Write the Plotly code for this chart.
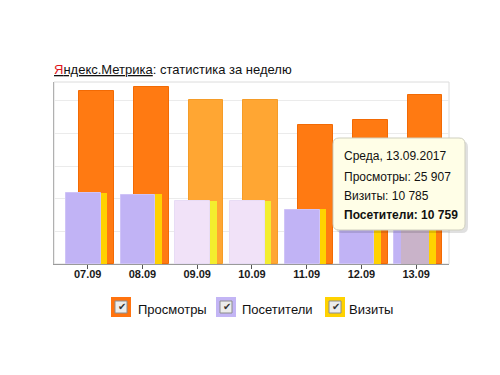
import plotly.graph_objects as go

# ---- data ----
categories = ["07.09", "08.09", "09.09", "10.09", "11.09", "12.09", "13.09"]
views = [26480, 27090, 25100, 25090, 21310, 22120, 25907]      # Просмотры
visits = [10880, 10730, 9680, 9660, 8480, 10180, 10785]        # Визиты
visitors = [10840, 10530, 9660, 9640, 8280, 10100, 10759]      # Посетители
weekend = [False, False, True, True, False, False, False]
series_names = ["Просмотры", "Посетители", "Визиты"]
tooltip_date = "Среда, 13.09.2017"
hover_index = 6

# ---- styling ----
FONT = "Liberation Sans, Arial, sans-serif"
c_views = ["#ffa633" if w else "#ff7a12" for w in weekend]
c_views_line = ["#f59c28" if w else "#f26a04" for w in weekend]
c_visits = ["#f3ee2e" if w else "#ffd200" for w in weekend]
c_visitors = ["#f1e2f8" if w else "#c1b3f5" for w in weekend]
c_visitors_line = ["#e8dcf5" if w else "#cfc3f7" for w in weekend]

BW = 0.635
fig = go.Figure()
fig.add_trace(go.Bar(x=list(range(len(categories))), y=views, width=BW, offset=-0.156,
                     marker=dict(color=c_views, line=dict(color=c_views_line, width=1)),
                     name=series_names[0], showlegend=False))
fig.add_trace(go.Bar(x=list(range(len(categories))), y=visits, width=BW, offset=-0.278,
                     marker=dict(color=c_visits, line=dict(width=0)),
                     name=series_names[2], showlegend=False))
fig.add_trace(go.Bar(x=list(range(len(categories))), y=visitors, width=BW, offset=-0.40,
                     marker=dict(color=c_visitors, line=dict(color=c_visitors_line, width=1)),
                     name=series_names[1], showlegend=False))
# hover highlight of the hovered visitors bar
fig.add_trace(go.Bar(x=[hover_index], y=[visitors[hover_index]], width=0.506, offset=-0.269,
                     marker=dict(color="#c9b3c9", line=dict(width=0)),
                     showlegend=False))

# ---- page pixel -> paper helpers (page has an 8px body margin) ----
OFF = 8
L, R, T, B = 54 - OFF, 449 - OFF, 82 - OFF, 264 - OFF   # plot area in figure pixels
W, H = R - L, B - T
def px(x):
    return (x - OFF - L) / W
def py(y):
    return (B - (y - OFF)) / H

shapes = []
annotations = []

# plot frame (light)
shapes.append(dict(type="rect", xref="paper", yref="paper", x0=0, x1=1, y0=0, y1=1,
                   line=dict(color="#dcdcdc", width=1), layer="below"))

# title
annotations.append(dict(
    xref="paper", yref="paper", x=px(52), y=py(69), xanchor="left", yanchor="middle",
    showarrow=False, font=dict(family=FONT, size=13, color="#111"),
    text='<span style="text-decoration:underline"><span style="color:#e0141c">Я</span>'
         'ндекс.Метрика</span>: статистика за неделю'))

# tooltip box (rounded) with shadow
def rounded(x0, y0, x1, y1, r=5):
    rx, ry = r / W, r / H
    X0, X1 = px(x0), px(x1)
    Y0, Y1 = py(y0), py(y1)  # Y0 top (larger), Y1 bottom
    return (f"M {X0+rx},{Y0} L {X1-rx},{Y0} Q {X1},{Y0} {X1},{Y0-ry} "
            f"L {X1},{Y1+ry} Q {X1},{Y1} {X1-rx},{Y1} "
            f"L {X0+rx},{Y1} Q {X0},{Y1} {X0},{Y1+ry} "
            f"L {X0},{Y0-ry} Q {X0},{Y0} {X0+rx},{Y0} Z")

shapes.append(dict(type="path", xref="paper", yref="paper", path=rounded(336, 141, 468, 233, 6),
                   fillcolor="rgba(0,0,0,0.12)", line=dict(width=0), layer="above"))
shapes.append(dict(type="path", xref="paper", yref="paper", path=rounded(333, 138, 465, 230, 6),
                   fillcolor="#fffee7", line=dict(color="#cfcfbf", width=1), layer="above"))

def fmt(v):
    return f"{v:,}".replace(",", " ")

tip_lines = [
    (tooltip_date, 155.5, False),
    (f"{series_names[0]}: {fmt(views[hover_index])}", 177, False),
    (f"{series_names[2]}: {fmt(visits[hover_index])}", 195.5, False),
    (f"{series_names[1]}: {fmt(visitors[hover_index])}", 214.5, True),
]
for txt, yy, bold in tip_lines:
    annotations.append(dict(xref="paper", yref="paper", x=px(342), y=py(yy),
                            xanchor="left", yanchor="middle", showarrow=False,
                            text=f"<b>{txt}</b>" if bold else txt,
                            font=dict(family=FONT, size=12, color="#111")))

# custom legend (checkbox style)
legend_items = [
    (series_names[0], "#ff730f", 111, 136),
    (series_names[1], "#c3b5f5", 216, 240),
    (series_names[2], "#ffd200", 325, 347),
]
for name, col, bx, tx in legend_items:
    shapes.append(dict(type="rect", xref="paper", yref="paper",
                       x0=px(bx), x1=px(bx + 20), y0=py(317), y1=py(297),
                       fillcolor=col, line=dict(width=0), layer="above"))
    shapes.append(dict(type="rect", xref="paper", yref="paper",
                       x0=px(bx + 4), x1=px(bx + 16), y0=py(313), y1=py(301),
                       fillcolor="#ececec", line=dict(color="#8c8c8c", width=1), layer="above"))
    annotations.append(dict(xref="paper", yref="paper", x=px(bx + 10.5), y=py(306.5),
                            xanchor="center", yanchor="middle", showarrow=False, text="✔",
                            font=dict(family="DejaVu Sans", size=10, color="#333")))
    annotations.append(dict(xref="paper", yref="paper", x=px(tx), y=py(309.5),
                            xanchor="left", yanchor="middle", showarrow=False, text=name,
                            font=dict(family=FONT, size=13, color="#111")))

fig.update_layout(
    width=500, height=375, autosize=False,
    margin=dict(l=L, r=500 - R, t=T, b=375 - B, pad=0),
    paper_bgcolor="white", plot_bgcolor="white",
    barmode="overlay", bargap=0,
    shapes=shapes, annotations=annotations,
    showlegend=False,
    hovermode=False,
    font=dict(family=FONT),
)
fig.update_xaxes(
    range=[-0.615, 6.6], tickmode="array", tickvals=list(range(len(categories))),
    ticktext=categories, showgrid=False, zeroline=False,
    showline=True, linecolor="#9a9a9a", linewidth=1,
    ticks="outside", ticklen=4, tickcolor="#555", tickwidth=1,
    ticklabelstandoff=-4,
    tickfont=dict(family=FONT, size=11, color="#1a1a1a", weight="bold"),
    fixedrange=True,
)
fig.update_yaxes(
    range=[0, 27900], dtick=5000, showticklabels=False, ticks="",
    showgrid=True, gridcolor="#ebebeb", gridwidth=1, zeroline=False,
    showline=True, linecolor="#b0b0b0", linewidth=1, fixedrange=True,
)

fig.write_html("out.html", config={"displayModeBar": False})
